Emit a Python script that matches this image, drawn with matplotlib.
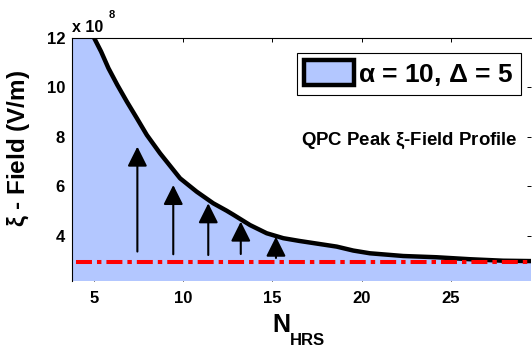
import numpy as np
import matplotlib
matplotlib.use("Agg")
import matplotlib.pyplot as plt

plt.rcParams['font.family'] = ['Liberation Sans', 'DejaVu Sans']
plt.rcParams['font.weight'] = 'bold'
plt.rcParams['lines.scale_dashes'] = False

# peak field profile (units of 1e8 V/m) vs number of HRS
n_hrs = [3.0, 4.0, 5.02, 5.41, 5.82, 6.32, 6.85, 7.41, 7.97, 8.71, 9.83, 10.76,
         11.69, 12.44, 12.81, 13.75, 14.68, 15.61, 16.5, 18.6, 19.53, 20.46,
         22.33, 24.19, 26.06, 27.92, 30.0]
xi_peak = [16.5, 13.9, 12.0, 11.45, 10.78, 10.10, 9.43, 8.76, 8.08, 7.34, 6.33, 5.79,
           5.32, 5.02, 4.86, 4.44, 4.11, 3.91, 3.80, 3.57, 3.41, 3.30,
           3.19, 3.14, 3.06, 3.00, 2.98]

# threshold line (dash-dot red)
thr_x = [4, 30]
thr_y = [2.95, 2.95]

# arrows: x position, tail, tip
arrow_x = [7.44, 9.45, 11.41, 13.23, 15.2]
arrow_y0 = [3.37, 3.26, 3.23, 3.27, 3.11]
arrow_y1 = [7.61, 6.06, 5.32, 4.58, 3.97]

x_ticks = [5, 10, 15, 20, 25]
y_ticks = [4, 6, 8, 10, 12]

W, H = 532, 347
fig = plt.figure(figsize=(W / 100, H / 100), dpi=100)
ax = fig.add_axes([72 / W, (H - 281) / H, (531 - 72) / W, (281 - 38) / H])
ax.set_axisbelow(True)

fill_col = (0.70, 0.78, 1.0)
ax.fill_between(n_hrs, xi_peak, 0, facecolor=fill_col, edgecolor='black',
                linewidth=3.2, zorder=1, label=r'$\alpha$ = 10, $\Delta$ = 5')

for x, y0, y1 in zip(arrow_x, arrow_y0, arrow_y1):
    ax.annotate('', xy=(x, y1), xytext=(x, y0),
                arrowprops=dict(arrowstyle='-|>,head_length=1.2,head_width=0.6',
                                mutation_scale=10, color='black', lw=1.5,
                                shrinkA=0, shrinkB=0), zorder=2)

ax.plot(thr_x, thr_y, color='red', lw=2.9, linestyle=(0, (11.5, 3.6, 3.2, 3.6)), zorder=3)

ax.set_xlim(3.78, 29.48)
ax.set_ylim(2.18, 12)
ax.set_xticks(x_ticks)
ax.set_yticks(y_ticks)
ax.tick_params(direction='in', length=3, width=0.7, top=True, right=True,
               labelsize=12)
ax.tick_params(axis='x', pad=7)
ax.tick_params(axis='y', pad=5)
ax.spines['bottom'].set_visible(False)
ax.spines['right'].set_visible(False)
ax.spines['left'].set_linewidth(0.8)
ax.spines['top'].set_linewidth(0.8)

plt.rcParams['mathtext.fontset'] = 'custom'
plt.rcParams['mathtext.rm'] = 'Liberation Sans:bold'
plt.rcParams['mathtext.it'] = 'Liberation Sans:bold'
plt.rcParams['mathtext.bf'] = 'Liberation Sans:bold'

leg = ax.legend(loc='upper right', bbox_to_anchor=(521 / W, 1 - 53 / H),
                bbox_transform=fig.transFigure, borderaxespad=0, fancybox=False,
                edgecolor='black', framealpha=1, fontsize=19, handlelength=1.9,
                handleheight=1.05, handletextpad=0.15, borderpad=0.28)
leg.get_frame().set_linewidth(0.8)
for t in leg.get_texts():
    t.set_fontweight('bold')

px = lambda x, y: (x / W, 1 - y / H)
fig.text(*px(518, 145), r'QPC Peak $\xi$-Field Profile', ha='right', va='baseline',
         fontsize=13.4, fontweight='bold')
fig.text(*px(19, 148), r'$\xi$ - Field (V/m)', rotation=90, ha='center', va='center',
         fontsize=17.5, fontweight='bold')
fig.text(*px(272, 332), 'N', ha='left', va='baseline', fontsize=18, fontweight='bold')
fig.text(*px(290, 345), 'HRS', ha='left', va='baseline', fontsize=12, fontweight='bold')
fig.text(*px(72, 32), 'x 10', ha='left', va='baseline', fontsize=11.5, fontweight='bold')
fig.text(*px(109, 18), '8', ha='left', va='baseline', fontsize=8, fontweight='bold')

fig.savefig('out.png', dpi=100)
